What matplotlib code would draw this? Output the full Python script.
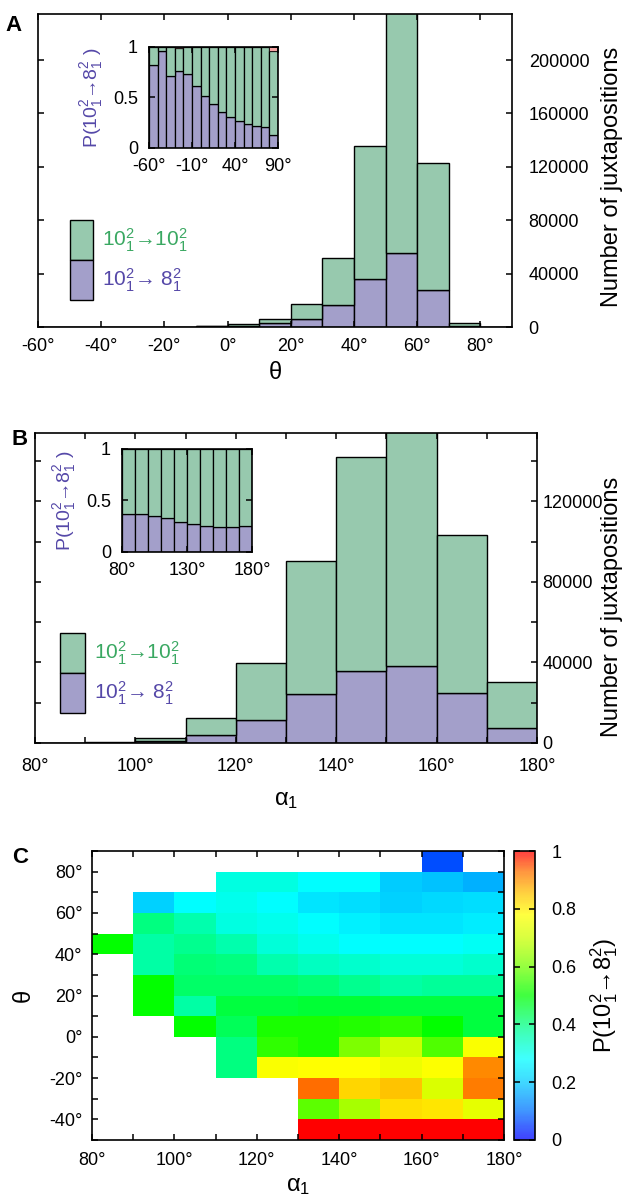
import numpy as np
import matplotlib
matplotlib.use("Agg")
import matplotlib.pyplot as plt
from matplotlib.colors import LinearSegmentedColormap, Normalize
from matplotlib.patches import Patch
from matplotlib.cm import ScalarMappable

plt.rcParams['font.family'] = ['Liberation Sans', 'DejaVu Sans']
plt.rcParams['mathtext.fontset'] = 'custom'
plt.rcParams['mathtext.rm'] = 'Liberation Sans'
plt.rcParams['mathtext.it'] = 'Liberation Sans:italic'
plt.rcParams['mathtext.bf'] = 'Liberation Sans:bold'
plt.rcParams['axes.linewidth'] = 1.2

GREEN = '#97c9ae'
PURPLE = '#a39fca'
PINK = '#f2a3a3'
GREEN_TXT = '#3aa862'
PURPLE_TXT = '#5548a8'

LBL_SAME = r'$10_1^2$→$10_1^2$'
LBL_SWAP = r'$10_1^2$→ $8_1^2$'
LBL_P = r'P($10_1^2$→$8_1^2$)'
LBL_P_INSET = r'P($10_1^2$→$8_1^2$ )'

# ---- panel A: theta histogram ----
theta_left = np.arange(-60, 90, 10)
theta_total = [20, 40, 60, 120, 300, 800, 2000, 6300, 17500, 52000, 136000, 240000, 123000, 3300, 60]
theta_swap = [16, 38, 43, 91, 220, 490, 1020, 2750, 6300, 16300, 36300, 55800, 27500, 690, 8]
theta_frac_swap = [0.82, 0.96, 0.71, 0.76, 0.73, 0.61, 0.51, 0.44, 0.36, 0.31, 0.27, 0.24, 0.22, 0.21, 0.13]
theta_frac_other = [0, 0, 0, 0.015, 0, 0, 0, 0, 0, 0, 0, 0, 0, 0, 0.04]

# ---- panel B: alpha1 histogram ----
alpha_left = np.arange(80, 180, 10)
alpha_total = [60, 500, 2500, 12400, 39700, 90400, 142000, 160000, 103300, 30100]
alpha_swap = [20, 190, 880, 4000, 11400, 24500, 35800, 38000, 25000, 7400]
alpha_frac_swap = [0.37, 0.37, 0.35, 0.33, 0.29, 0.27, 0.25, 0.24, 0.24, 0.25]

# ---- panel C: P(swap) on (alpha1, theta) grid, rows listed from theta=80 down to -50 ----
alpha_edges = np.arange(80, 190, 10)
theta_edges = np.arange(-50, 100, 10)
n = np.nan
P_rows_top_down = [
    [n, n, n, n, n, n, n, n, 0.07, n],
    [n, n, n, 0.31, 0.31, 0.28, 0.28, 0.20, 0.19, 0.17],
    [n, 0.21, 0.28, 0.30, 0.28, 0.24, 0.23, 0.21, 0.22, 0.23],
    [n, 0.40, 0.36, 0.31, 0.30, 0.28, 0.26, 0.24, 0.24, 0.25],
    [0.50, 0.37, 0.39, 0.36, 0.32, 0.30, 0.28, 0.28, 0.28, 0.29],
    [n, 0.37, 0.41, 0.40, 0.36, 0.34, 0.33, 0.32, 0.32, 0.33],
    [n, 0.50, 0.42, 0.42, 0.42, 0.41, 0.39, 0.37, 0.38, 0.38],
    [n, 0.50, 0.37, 0.45, 0.45, 0.46, 0.46, 0.45, 0.45, 0.45],
    [n, n, 0.50, 0.43, 0.52, 0.52, 0.53, 0.54, 0.50, 0.45],
    [n, n, n, 0.40, 0.54, 0.52, 0.61, 0.70, 0.57, 0.77],
    [n, n, n, 0.40, 0.77, 0.78, 0.78, 0.75, 0.775, 0.91],
    [n, n, n, n, n, 0.93, 0.83, 0.855, 0.72, 0.92],
    [n, n, n, n, n, 0.58, 0.66, 0.82, 0.81, 0.74],
    [n, n, n, n, n, 1.0, 1.0, 1.0, 1.0, 1.0],
]
P = np.ma.masked_invalid(np.flipud(np.array(P_rows_top_down)))

nodes = [
    (0.00, (0.0, 0.0, 1.0)),
    (0.10, (0.0, 0.45, 1.0)),
    (0.20, (0.0, 0.8, 1.0)),
    (0.28, (0.0, 1.0, 1.0)),
    (0.38, (0.0, 1.0, 0.6)),
    (0.50, (0.0, 1.0, 0.0)),
    (0.60, (0.45, 1.0, 0.0)),
    (0.70, (0.8, 1.0, 0.0)),
    (0.78, (1.0, 1.0, 0.0)),
    (0.86, (1.0, 0.75, 0.0)),
    (0.93, (1.0, 0.45, 0.0)),
    (1.00, (1.0, 0.0, 0.0)),
]
cmap = LinearSegmentedColormap.from_list('rainbow_p', nodes)
cmap_bar = LinearSegmentedColormap.from_list(
    'rainbow_p_bar', [(v, c + (0.75,)) for v, c in nodes])

deg = lambda vals: [f"{v}°" for v in vals]
TICK = dict(direction='in', length=4, width=1.1, labelsize=13)

fig = plt.figure(figsize=(6.24, 12.01), dpi=100)


def stacked(ax, left, bottom_vals, top_vals, lw=1.0):
    ax.bar(left, bottom_vals, width=10, align='edge', color=PURPLE,
           edgecolor='black', linewidth=lw)
    ax.bar(left, top_vals, width=10, align='edge', bottom=bottom_vals,
           color=GREEN, edgecolor='black', linewidth=lw)


def legend(ax, anchor, hl):
    handles = [Patch(facecolor=GREEN, edgecolor='black', linewidth=1.0),
               Patch(facecolor=PURPLE, edgecolor='black', linewidth=1.0)]
    ax.legend(handles, [LBL_SAME, LBL_SWAP], loc='upper left',
              bbox_to_anchor=anchor, frameon=False, fontsize=15,
              labelspacing=0, borderpad=0, borderaxespad=0,
              handlelength=hl, handleheight=2.58, handletextpad=0.45,
              labelcolor=[GREEN_TXT, PURPLE_TXT])


def inset(rect, left, frac_swap, frac_other, xlim, xt):
    ax = fig.add_axes(rect)
    frac_swap = np.array(frac_swap)
    frac_other = np.array(frac_other)
    frac_same = 1 - frac_swap - frac_other
    stacked(ax, left, frac_swap, frac_same, lw=0.9)
    ax.bar(left, frac_other, width=10, align='edge',
           bottom=frac_swap + frac_same, color=PINK, edgecolor='black', linewidth=0.5)
    ax.set_xlim(*xlim)
    ax.set_ylim(0, 1)
    ax.set_xticks(xt, deg(xt))
    ax.set_yticks([0, 0.5, 1], ['0', '0.5', '1'])
    ax.tick_params(top=True, right=True, **TICK)
    ax.tick_params(axis='y', pad=8)
    ax.tick_params(axis='x', pad=7)
    ax.set_ylabel(LBL_P_INSET, color=PURPLE_TXT, fontsize=14, labelpad=6)
    return ax


# ---------------- A ----------------
axA = fig.add_axes([0.0609, 0.7277, 0.7596, 0.2606])
stacked(axA, theta_left, theta_swap, np.array(theta_total) - np.array(theta_swap))
axA.set_xlim(-60, 90)
axA.set_ylim(0, 234500)
xtA = list(range(-60, 81, 20))
axA.set_xticks(xtA, deg(xtA))
ytA = list(range(0, 200001, 40000))
axA.set_yticks(ytA, [str(v) for v in ytA])
axA.tick_params(top=True, left=True, right=True, labelleft=False, labelright=True, **TICK)
axA.tick_params(axis='y', pad=12)
axA.tick_params(axis='x', pad=8)
axA.set_xlabel('θ', fontsize=17, labelpad=5)
fig.text(0.981, 0.8526, 'Number of juxtapositions', fontsize=17,
         rotation=90, ha='center', va='center')
legend(axA, (0.0675, 0.342), 1.1)
inset([0.2388, 0.8768, 0.2067, 0.0841], theta_left, theta_frac_swap,
      theta_frac_other, (-60, 90), [-60, -10, 40, 90])

# ---------------- B ----------------
axB = fig.add_axes([0.0561, 0.3814, 0.8045, 0.2581])
stacked(axB, alpha_left, alpha_swap, np.array(alpha_total) - np.array(alpha_swap))
axB.set_xlim(80, 180)
axB.set_ylim(0, 154000)
xtB = list(range(80, 181, 20))
axB.set_xticks(xtB, deg(xtB))
axB.set_xticks(range(80, 181, 10), minor=True)
axB.set_yticks(range(0, 150000, 20000), minor=True)
ytB = list(range(0, 120001, 40000))
axB.set_yticks(ytB, [str(v) for v in ytB])
axB.tick_params(which='both', top=True, left=True, right=True,
                labelleft=False, labelright=True, **TICK)
axB.tick_params(axis='y', pad=4)
axB.tick_params(axis='x', pad=11)
axB.set_xlabel('α$_1$', fontsize=17, labelpad=10)
fig.text(0.981, 0.4946, 'Number of juxtapositions', fontsize=17,
         rotation=90, ha='center', va='center')
legend(axB, (0.0498, 0.3548), 1.2)
inset([0.1955, 0.5404, 0.2083, 0.0858], alpha_left, alpha_frac_swap,
      [0] * len(alpha_left), (80, 180), [80, 130, 180])

# ---------------- C ----------------
axC = fig.add_axes([0.1474, 0.0508, 0.6603, 0.2406])
axC.pcolormesh(alpha_edges, theta_edges, P, cmap=cmap, vmin=0, vmax=1)
axC.set_xlim(80, 180)
axC.set_ylim(-50, 90)
xtC = list(range(80, 181, 20))
axC.set_xticks(xtC, deg(xtC))
axC.set_xticks(range(80, 181, 10), minor=True)
ytC = list(range(-40, 81, 20))
axC.set_yticks(ytC, deg(ytC))
axC.set_yticks(range(-50, 91, 10), minor=True)
axC.tick_params(which='both', top=True, right=True, **TICK)
axC.tick_params(axis='y', pad=7)
axC.tick_params(axis='x', pad=9)
axC.set_xlabel('α$_1$', fontsize=17, labelpad=4)
axC.set_ylabel('θ', fontsize=17, labelpad=10)

cax = fig.add_axes([0.8237, 0.0508, 0.0337, 0.2406])
cb = fig.colorbar(ScalarMappable(norm=Normalize(0, 1), cmap=cmap_bar), cax=cax)
cb.set_ticks([0, 0.2, 0.4, 0.6, 0.8, 1.0], labels=['0', '0.2', '0.4', '0.6', '0.8', '1'])
cb.outline.set_linewidth(1.2)
cax.tick_params(left=True, right=True, **TICK)
cax.tick_params(pad=12)
cb.set_label(LBL_P, fontsize=17, labelpad=8)

fig.text(0.022, 0.979, 'A', fontsize=16, fontweight='bold', ha='center', va='center')
fig.text(0.032, 0.634, 'B', fontsize=16, fontweight='bold', ha='center', va='center')
fig.text(0.032, 0.286, 'C', fontsize=16, fontweight='bold', ha='center', va='center')

fig.savefig('out.png', dpi=100)
